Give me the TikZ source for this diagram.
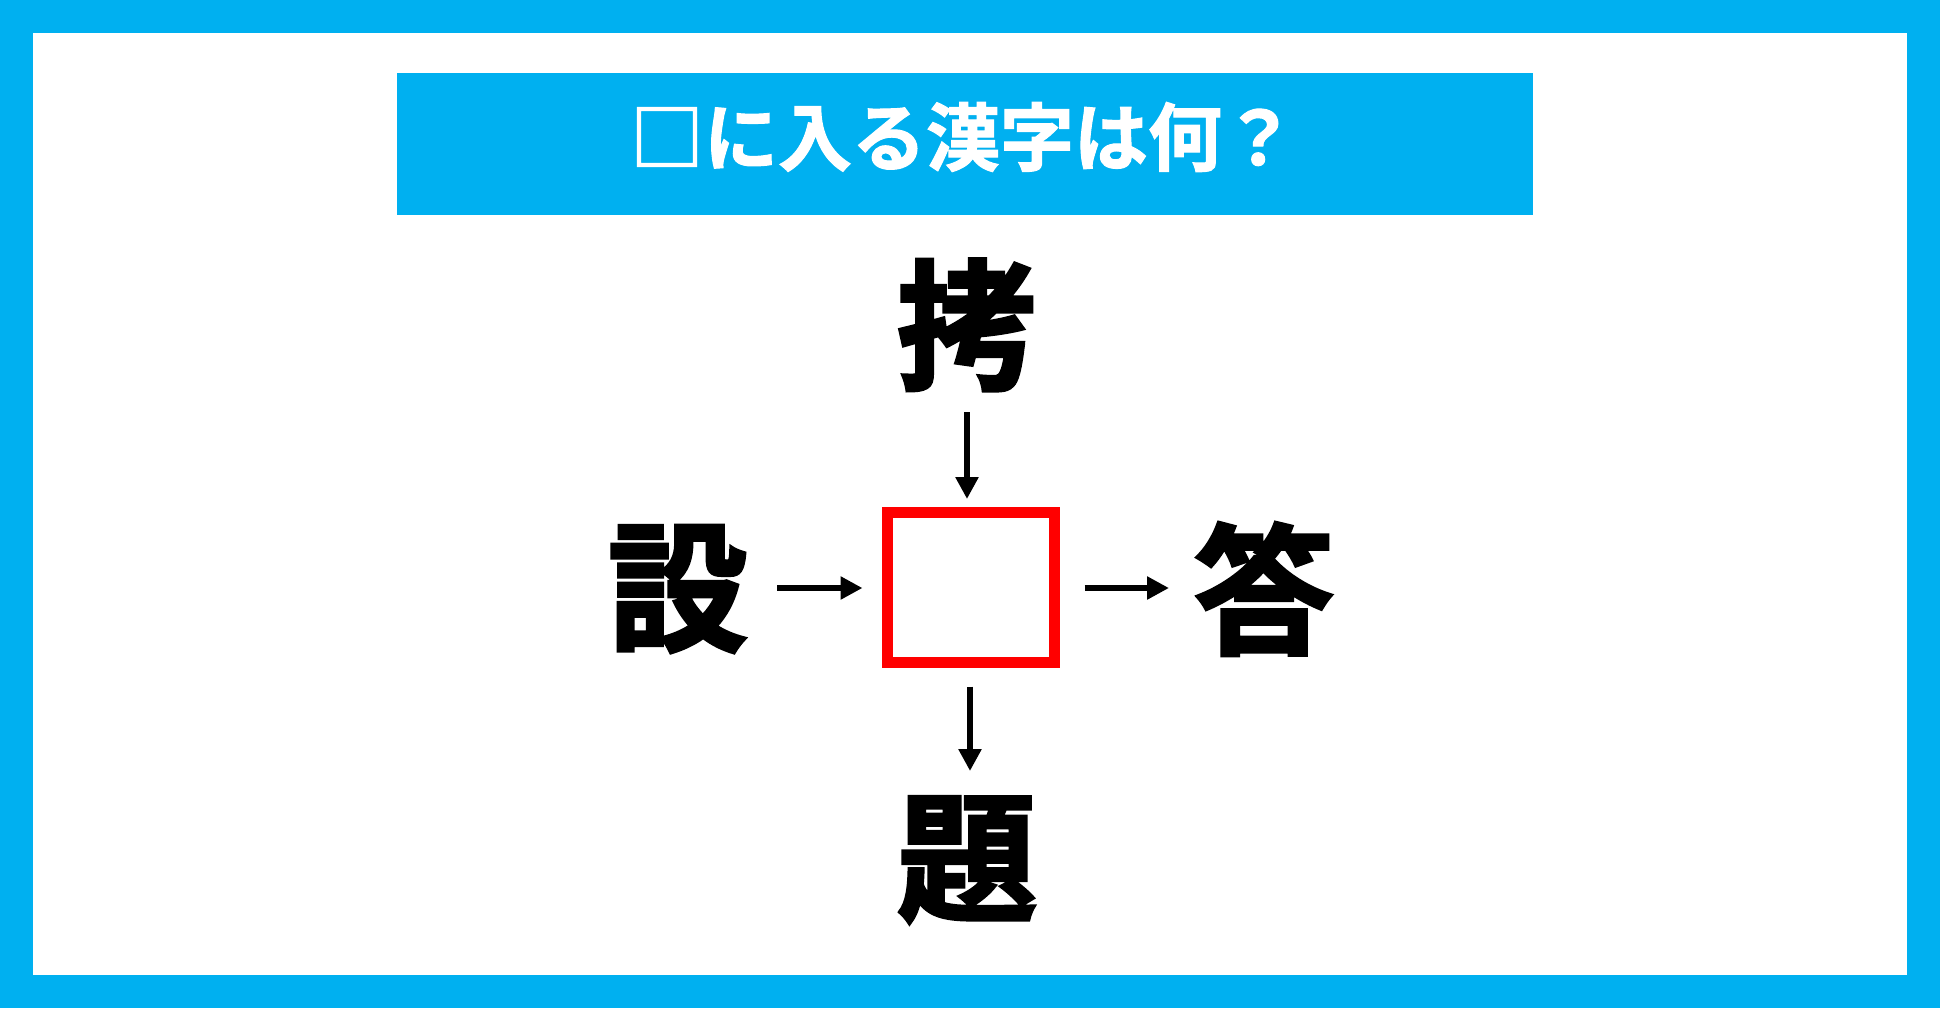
\documentclass[tikz,border=0pt]{standalone}
\usepackage{fontspec}
\usetikzlibrary{arrows.meta}
\newfontfamily\jpfont{Noto Sans CJK JP Bold}[FakeBold=2.5]
\newfontfamily\jptitle{Noto Sans CJK JP Bold}[FakeBold=1.5]
\definecolor{skyblue}{RGB}{0,176,240}
\definecolor{boxred}{RGB}{255,0,0}
\begin{document}
\begin{tikzpicture}[x=0.5pt,y=-0.5pt,
  kanji/.style={inner sep=0pt,font=\jpfont\fontsize{70pt}{70pt}\selectfont},
  title/.style={inner sep=0pt,text=white,font=\jptitle\fontsize{37pt}{37pt}\selectfont},
  arr/.style={line width=3pt,-{Triangle[length=11pt,width=11pt]}},
  answerbox/.style={draw=boxred,line width=5.5pt,minimum width=83.5pt,minimum height=75pt,inner sep=0pt}]
\useasboundingbox (0,0) rectangle (1940,1008);
\fill[skyblue] (0,0) rectangle (1940,1008);
\fill[white] (33,33) rectangle (1907,975);
\fill[skyblue] (397,73) rectangle (1533,215);
\node[title] (ttl) at (963,137) {□に入る漢字は何？};
\node[kanji] (kao) at (967,325) {拷};
\node[kanji] (setsu) at (678,589) {設};
\node[kanji] (tou) at (1264,589) {答};
\node[kanji] (dai) at (967,860) {題};
\node[answerbox] (box) at (971,587.5) {};
\coordinate (t1) at (967,412);
\coordinate (l1) at (777,588);
\coordinate (r1) at (1169,588);
\coordinate (b1) at (970,771);
\draw[arr,shorten >=4pt] (t1) -- (t1 |- box.north);
\draw[arr,shorten >=9.75pt] (l1) -- (l1 -| box.west);
\draw[arr,shorten <=12.25pt] (box.east |- r1) -- (r1);
\draw[arr,shorten <=9.25pt] (box.south -| b1) -- (b1);
\end{tikzpicture}
\end{document}
